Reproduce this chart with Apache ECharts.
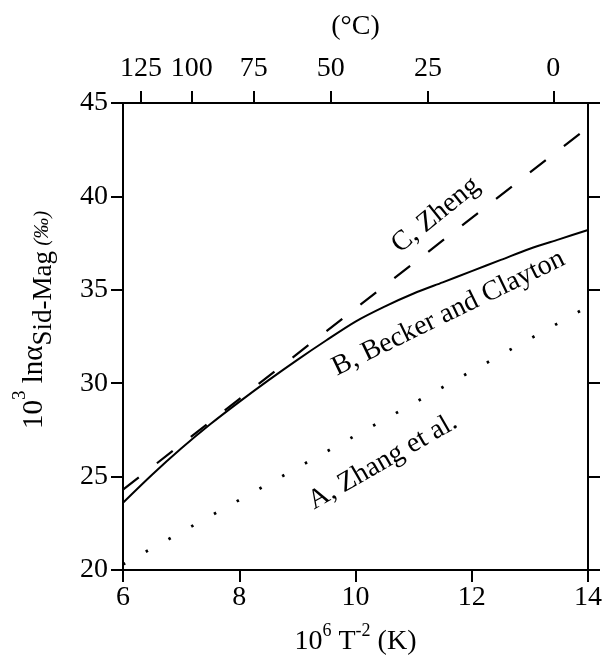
<!DOCTYPE html>
<html><head><meta charset="utf-8">
<script src="https://cdn.jsdelivr.net/npm/echarts@6/dist/echarts.min.js"></script>
<style>html,body{margin:0;padding:0;background:#fff}#c{width:606px;height:661px}</style>
</head><body><div id="c"></div>
<script>
// Curve B, Becker and Clayton (solid)
const xB = [6, 6.5, 7, 7.5, 8, 8.5, 9, 9.5, 10, 10.5, 11, 11.5, 12, 12.5, 13, 13.5, 14];
const yB = [23.6, 25.1, 26.5, 27.8, 29.0, 30.15, 31.25, 32.3, 33.3, 34.1, 34.8, 35.4, 36.0, 36.6, 37.2, 37.7, 38.2];
// Curve C, Zheng (dashed)
const xC = [6, 14];
const yC = [24.3, 43.7];
// Curve A, Zhang et al. (dotted)
const xA = [6, 14];
const yA = [20.3, 34.1];
// Top axis temperature tick labels (°C)
const tempTicks = [125, 100, 75, 50, 25, 0];
// Curve labels: text, anchor x, anchor y, angle
const labelText = ['C, Zheng', 'B, Becker and Clayton', 'A, Zhang et al.'];
const labelX = [11.38, 11.6, 10.47];
const labelY = [39.0, 33.75, 25.8];
const labelAngle = [39, 26, 30];

const FONT = '"Liberation Serif", "Times New Roman", serif';
const FS = 28;
const tempPos = tempTicks.map(t => 1e6 / Math.pow(t + 273.15, 2));
const tempMap = {};
tempPos.forEach((p, i) => { tempMap[p.toFixed(6)] = tempTicks[i]; });

const zip = (xs, ys) => xs.map((x, i) => [x, ys[i]]);
const axisLine = { show: true, onZero: false, lineStyle: { color: '#000', width: 2 } };
const tick = { show: true, inside: false, length: 12, lineStyle: { color: '#000', width: 2 } };
const lbl = { color: '#000', fontFamily: FONT, fontSize: FS };

const chart = echarts.init(document.getElementById('c'), null, { renderer: 'canvas' });
chart.setOption({
  animation: false,
  backgroundColor: '#fff',
  grid: { left: 123, right: 18, top: 103, bottom: 91, containLabel: false },
  xAxis: [
    {
      type: 'value', position: 'bottom', min: 6, max: 14, interval: 2,
      axisLine, axisTick: tick, splitLine: { show: false },
      axisLabel: Object.assign({ margin: 14 }, lbl),
      name: '{a|10}{s|6}{a| T}{s|-2}{a| (K)}', nameLocation: 'middle', nameGap: 52,
      nameTextStyle: {
        rich: {
          a: { fontFamily: FONT, fontSize: FS, color: '#000', lineHeight: 34, verticalAlign: 'bottom' },
          s: { fontFamily: FONT, fontSize: 18, color: '#000', lineHeight: 34, verticalAlign: 'top' }
        }
      }
    },
    {
      type: 'value', position: 'top', min: 6, max: 14,
      axisLine,
      axisTick: Object.assign({ customValues: tempPos }, tick),
      axisLabel: Object.assign({
        customValues: tempPos, margin: 20,
        formatter: v => { const k = v.toFixed(6); return tempMap[k] !== undefined ? String(tempMap[k]) : ''; }
      }, lbl),
      splitLine: { show: false },
      name: '(°C)', nameLocation: 'middle', nameGap: 62,
      nameTextStyle: { fontFamily: FONT, fontSize: FS, color: '#000' }
    }
  ],
  yAxis: [
    {
      type: 'value', position: 'left', min: 20, max: 45, interval: 5,
      axisLine, axisTick: tick, splitLine: { show: false },
      axisLabel: Object.assign({ margin: 15 }, lbl)
    },
    {
      type: 'value', position: 'right', min: 20, max: 45, interval: 5,
      axisLine, axisTick: tick, axisLabel: { show: false }, splitLine: { show: false }
    }
  ],
  series: [
    {
      type: 'line', name: 'B', data: zip(xB, yB), smooth: 0.3, symbol: 'none',
      lineStyle: { color: '#000', width: 2 }
    },
    {
      type: 'line', name: 'C', data: zip(xC, yC), symbol: 'none',
      lineStyle: { color: '#000', width: 2.2, type: [20, 23] }
    },
    {
      type: 'line', name: 'A', data: zip(xA, yA), symbol: 'none',
      lineStyle: { color: '#000', width: 2.8, type: [2.5, 23.5] }
    }
  ]
});

const graphics = labelText.map((t, i) => {
  const p = chart.convertToPixel({ xAxisIndex: 0, yAxisIndex: 0 }, [labelX[i], labelY[i]]);
  return {
    type: 'text', x: p[0], y: p[1], rotation: labelAngle[i] * Math.PI / 180,
    style: { text: t, fontFamily: FONT, fontSize: FS, fill: '#000', align: 'center', verticalAlign: 'middle' }
  };
});
// Y axis title
graphics.push({
  type: 'text', x: 34, y: 320, rotation: Math.PI / 2,
  style: {
    text: '{a|10}{s|3}{a| ln\u03b1}{b|Sid-Mag}{i| (\u2030)}',
    align: 'center', verticalAlign: 'middle',
    rich: {
      a: { fontFamily: FONT, fontSize: 29, fill: '#000', lineHeight: 46, verticalAlign: 'middle' },
      s: { fontFamily: FONT, fontSize: 19, fill: '#000', lineHeight: 46, verticalAlign: 'top' },
      b: { fontFamily: FONT, fontSize: 27, fill: '#000', lineHeight: 46, verticalAlign: 'bottom' },
      i: { fontFamily: FONT, fontSize: 21, fontStyle: 'italic', fill: '#000', lineHeight: 46, verticalAlign: 'bottom', padding: [0, 0, 4, 0] }
    }
  }
});
chart.setOption({ graphic: graphics });
</script>
</body></html>
